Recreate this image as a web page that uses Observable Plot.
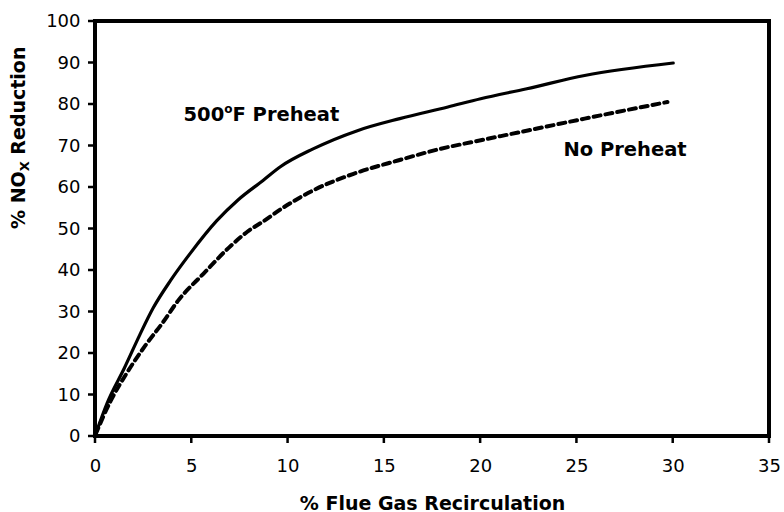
<!DOCTYPE html>
<html>
<head>
<meta charset="utf-8">
<script src="https://cdn.jsdelivr.net/npm/d3@7"></script>
<script src="https://cdn.jsdelivr.net/npm/@observablehq/plot@0.6"></script>
<style>
  html, body { margin: 0; padding: 0; background: #fff; }
  #chart { width: 784px; height: 512px; }
</style>
</head>
<body>
<div id="chart"></div>
<script>
// Series: 500°F preheat (solid)
const preheatX = [0, 0.6, 1.5, 2.3, 3.0, 3.9, 4.9, 6.3, 7.4, 8.7, 9.6, 11.3, 13.6, 15.8, 18.3, 20.0, 22.4, 25.4, 30.0];
const preheatY = [0.5, 8.0, 16.5, 24.5, 31.0, 37.6, 44.0, 52.0, 57.0, 61.7, 65.0, 69.3, 73.7, 76.6, 79.4, 81.4, 83.8, 87.0, 90.0];
// Series: no preheat (dotted)
const noPreheatX = [0, 0.8, 1.6, 2.6, 3.5, 4.3, 5.6, 6.9, 7.9, 8.7, 9.8, 11.3, 13.4, 15.7, 17.9, 19.5, 22.0, 25.4, 29.7];
const noPreheatY = [0.5, 8.7, 15.1, 22.0, 27.5, 32.8, 39.2, 45.4, 49.4, 51.8, 55.3, 59.3, 63.3, 66.5, 69.3, 70.9, 73.3, 76.6, 80.6];
// Ticks
const xTicks = [0, 5, 10, 15, 20, 25, 30, 35];
const yTicks = [0, 10, 20, 30, 40, 50, 60, 70, 80, 90, 100];
// Axis extents (frame edges)
const xEdges = [0, 35];
const yEdges = [0, 100];
// Texts
const xTitle = "% Flue Gas Recirculation";
const yTitle = "% NOX Reduction";
const label1 = "500°F Preheat";
const label2 = "No Preheat";
const labelPos1 = [4.57, 76];
const labelPos2 = [24.3, 67.7];

const preheat = preheatX.map((x, i) => ({x, y: preheatY[i]}));
const noPreheat = noPreheatX.map((x, i) => ({x, y: noPreheatY[i]}));

const bold = {fontWeight: "bold", fontFamily: "DejaVu Sans"};

const chart = Plot.plot({
  width: 784,
  height: 512,
  marginLeft: 95,
  marginRight: 15,
  marginTop: 21,
  marginBottom: 76,
  style: {fontFamily: "DejaVu Sans", fontSize: "18px", color: "black", background: "white"},
  x: {domain: xEdges},
  y: {domain: yEdges},
  marks: [
    Plot.axisX(xTicks, {tickSize: 0, tickPadding: 23, fontSize: 18, label: null}),
    Plot.axisY(yTicks, {tickSize: 0, tickPadding: 15, fontSize: 18, label: null}),
    Plot.line(noPreheat, {x: "x", y: "y", stroke: "black", strokeWidth: 4, strokeDasharray: "7,5", curve: "monotone-x"}),
    Plot.line(preheat, {x: "x", y: "y", stroke: "black", strokeWidth: 3.2, curve: "monotone-x"}),
    Plot.text([label1], {x: () => labelPos1[0], y: () => labelPos1[1], text: d => d, textAnchor: "start", lineAnchor: "bottom", fontSize: 19.5, ...bold}),
    Plot.text([label2], {x: () => labelPos2[0], y: () => labelPos2[1], text: d => d, textAnchor: "start", lineAnchor: "bottom", fontSize: 19.5, ...bold}),
    Plot.text([xTitle], {frameAnchor: "bottom", dy: 73, text: d => d, lineAnchor: "bottom", fontSize: 19, ...bold}),
    Plot.text([yTitle], {frameAnchor: "left", dx: -77, rotate: -90, text: d => d, lineAnchor: "middle", fontSize: 19, ...bold}),
    // Tick marks as filled bars (outward)
    Plot.rect(xTicks, {x1: d => d, x2: d => d, y1: () => yEdges[0], y2: () => yEdges[0], insetLeft: -1.25, insetRight: -1.25, insetTop: 0, insetBottom: -7, fill: "black"}),
    Plot.rect(yTicks, {y1: d => d, y2: d => d, x1: () => xEdges[0], x2: () => xEdges[0], insetTop: -1.25, insetBottom: -1.25, insetLeft: -7, insetRight: 0, fill: "black"}),
    // Frame edges as filled bars, 4px thick
    Plot.rect(xEdges, {x1: d => d, x2: d => d, y1: () => yEdges[0], y2: () => yEdges[1], insetLeft: -2, insetRight: -2, insetTop: -2, insetBottom: -2, fill: "black"}),
    Plot.rect(yEdges, {y1: d => d, y2: d => d, x1: () => xEdges[0], x2: () => xEdges[1], insetLeft: -2, insetRight: -2, insetTop: -2, insetBottom: -2, fill: "black"})
  ]
});

// Rich text: superscript degree "o" and subscript "X"
const NS = "http://www.w3.org/2000/svg";
function makeSpan(txt, attrs) {
  const s = document.createElementNS(NS, "tspan");
  s.textContent = txt;
  for (const k in attrs) s.setAttribute(k, attrs[k]);
  return s;
}
chart.querySelectorAll("text").forEach(t => {
  if (t.textContent === label1) {
    t.textContent = "";
    t.appendChild(makeSpan("500", {}));
    t.appendChild(makeSpan("o", {dy: "-8", "font-size": "12"}));
    t.appendChild(makeSpan("F Preheat", {dy: "8"}));
  } else if (t.textContent === yTitle) {
    t.textContent = "";
    t.appendChild(makeSpan("% NO", {}));
    t.appendChild(makeSpan("X", {dy: "4", "font-size": "13"}));
    t.appendChild(makeSpan(" Reduction", {dy: "-4"}));
  }
});

document.getElementById("chart").appendChild(chart);
</script>
</body>
</html>
